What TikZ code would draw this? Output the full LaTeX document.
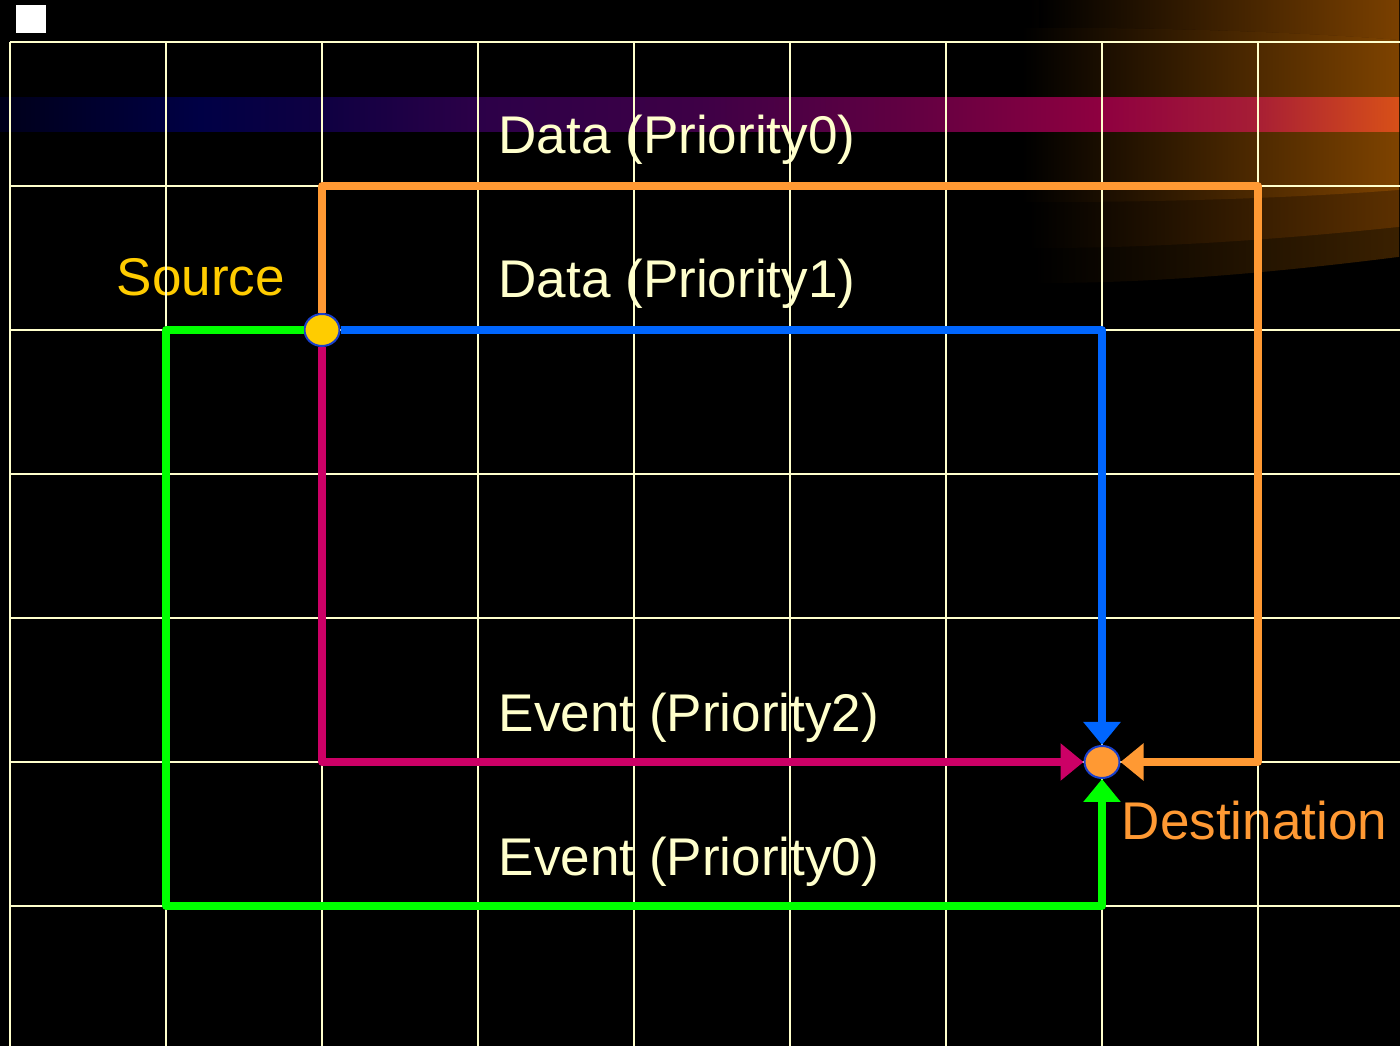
\documentclass[tikz,border=0pt]{standalone}
\usepackage{fontspec}
\setmainfont{Liberation Sans}
\usetikzlibrary{arrows.meta,shapes.geometric}
\definecolor{cream}{HTML}{FFFFCC}
\definecolor{srcyellow}{HTML}{FFCC00}
\definecolor{dstorange}{HTML}{FF9933}
\definecolor{datablue}{HTML}{0066FF}
\definecolor{eventred}{HTML}{CC0066}
\definecolor{eventgreen}{HTML}{00FF00}
\definecolor{ringblue}{HTML}{1A40CC}
\definecolor{bandA}{HTML}{00001A}
\definecolor{bandB}{HTML}{000045}
\definecolor{bandC}{HTML}{100042}
\definecolor{bandD}{HTML}{2C0048}
\definecolor{bandE}{HTML}{3E0046}
\definecolor{bandF}{HTML}{600042}
\definecolor{bandG}{HTML}{8E0040}
\definecolor{bandH}{HTML}{A51C36}
\definecolor{bandI}{HTML}{D85018}
\definecolor{glowtop}{HTML}{7A4000}
\definecolor{glowmid}{HTML}{7E4300}
\definecolor{glowlow}{HTML}{5C3000}
\definecolor{glowdim}{HTML}{3A2000}
\pgfdeclarehorizontalshading{bandshade}{100bp}{color(0bp)=(bandA); color(25bp)=(bandA);
  color(32.14bp)=(bandB); color(36.79bp)=(bandC); color(42.14bp)=(bandD); color(50bp)=(bandE);
  color(57.14bp)=(bandF); color(64.29bp)=(bandG); color(69.64bp)=(bandH); color(75bp)=(bandI);
  color(100bp)=(bandI)}
\begin{document}
\begin{tikzpicture}[x=1.56cm, y=-1.44cm, font=\fontsize{15.1}{18}\selectfont, line join=round,
  gridline/.style={draw=cream, line width=0.025cm},
  route/.style={line width=0.075cm, -{Triangle[width=0.36cm,length=0.23cm]}},
  endpoint/.style={ellipse, draw=ringblue, line width=0.02cm, inner sep=0pt,
    minimum width=0.35cm, minimum height=0.32cm},
  routetext/.style={anchor=base west, inner sep=0pt, text=cream}]
\useasboundingbox (-0.0641,-0.2917) rectangle (8.9103,6.9722);
\fill[black] (-0.0641,-0.2917) rectangle (8.9103,6.9722);

% backdrop, in pixel units
\begin{scope}[x=0.01cm, y=-0.01cm, xshift=-0.1cm, yshift=0.42cm]
\shade[left color=black, right color=glowdim] (1035,0) -- (1400,0) -- (1400,257)
  .. controls (1250,276) and (1130,284) .. (1035,283) -- cycle;
\shade[left color=black, right color=glowlow] (1030,0) -- (1400,0) -- (1400,227)
  .. controls (1250,243) and (1120,249) .. (1030,248) -- cycle;
\shade[left color=black, right color=glowtop] (1040,0) -- (1400,0) -- (1400,40)
  .. controls (1300,32) and (1150,27) .. (1040,28) -- cycle;
\shade[left color=black, right color=glowmid] (1023,28)
  .. controls (1150,27) and (1300,32) .. (1400,40) -- (1400,190)
  .. controls (1300,198) and (1150,203) .. (1023,202) -- cycle;
\shade[shading=bandshade] (0,98) rectangle (1400,132);
\fill[white] (16,5) rectangle (46,33);
\end{scope}

\node[routetext] (dataz) at (3.128,0.771) {Data (Priority0)};
\node[routetext] (dataa) at (3.128,1.771) {Data (Priority1)};
\node[routetext] (eventb) at (3.128,4.785) {Event (Priority2)};
\node[routetext] (eventz) at (3.128,5.785) {Event (Priority0)};
\node[routetext, text=srcyellow] (srctext) at (0.68,1.757) {Source};
\node[routetext, text=dstorange] (dsttext) at (7.122,5.54) {Destination};

\foreach \i in {0,...,8}
  \draw[gridline] (\i,0) -- (\i,6.9722);
\foreach \j in {0,...,6}
  \draw[gridline] (0,\j) -- (8.9103,\j);

\node[endpoint, fill=srcyellow] (src) at (2,2) {};
\node[endpoint, fill=dstorange] (dst) at (7,5) {};
\coordinate (farcorner) at (8,1);
\coordinate (lowcorner) at (1,6);

\draw[route, color=dstorange] (src) |- (farcorner) |- (dst);
\draw[route, color=datablue] (src) -| (dst);
\draw[route, color=eventred] (src) |- (dst);
\draw[route, color=eventgreen] (src) -| (lowcorner) -| (dst);
\end{tikzpicture}
\end{document}
